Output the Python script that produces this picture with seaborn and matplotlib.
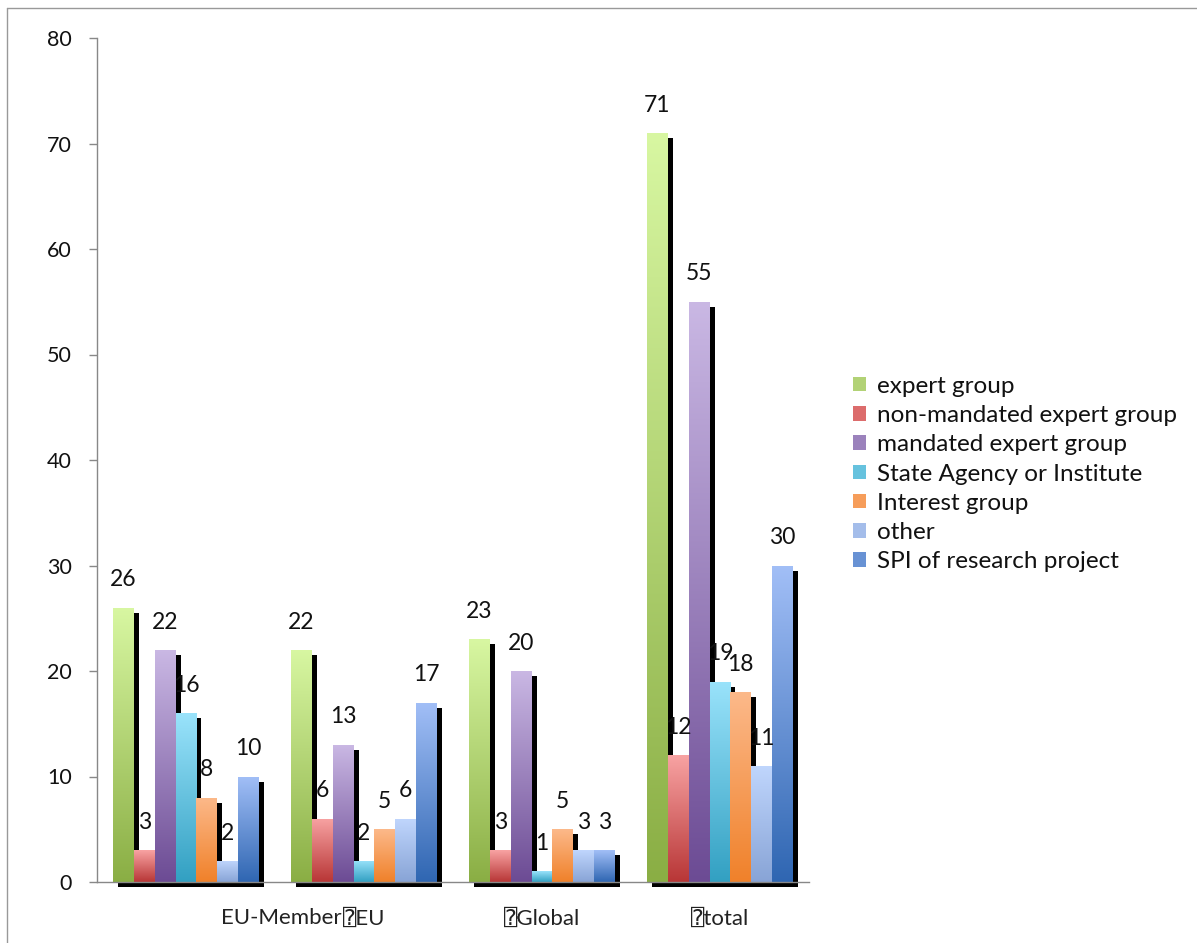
import numpy as np
import pandas as pd
import matplotlib
matplotlib.use("Agg")
import matplotlib.pyplot as plt
import seaborn as sns
from matplotlib.colors import LinearSegmentedColormap
from matplotlib.patches import Rectangle, Patch
from matplotlib.transforms import ScaledTranslation
from matplotlib.lines import Line2D

regions = ["EU-Member", "EU", "Global", "total"]
region_labels = ["EU-Member", "\u2370EU", "\u2370Global", "\u2370total"]
types = ["expert group", "non-mandated expert group", "mandated expert group",
         "State Agency or Institute", "Interest group", "other", "SPI of research project"]
expert_group = [26, 22, 23, 71]
non_mandated = [3, 6, 3, 12]
mandated = [22, 13, 20, 55]
state_agency = [16, 2, 1, 19]
interest_group = [8, 5, 5, 18]
other = [2, 6, 3, 11]
spi_research = [10, 17, 3, 30]
yticks = [0, 10, 20, 30, 40, 50, 60, 70, 80]

series = [expert_group, non_mandated, mandated, state_agency, interest_group, other, spi_research]
rows = []
for t, vals in zip(types, series):
    for r, v in zip(regions, vals):
        rows.append({"region": r, "type": t, "count": v})
df = pd.DataFrame(rows)

light = ["#d8f7a2", "#f8a3a3", "#cab8e4", "#9ae3fb", "#fcb98a", "#c0d6fd", "#a2bff7"]
dark = ["#8aae44", "#b83636", "#6c4b94", "#32a0c2", "#f0812a", "#88a4d6", "#2f66b2"]
mid = ["#b2d276", "#dc6c6c", "#9b82bc", "#66c2de", "#f69d5a", "#a4bdea", "#6892d4"]

sns.set_style("white")
plt.rcParams["font.family"] = ["Lato", "DejaVu Sans", "DejaVu Sans Mono"]

fig = plt.figure(figsize=(11.97, 9.43), dpi=100)
ax = fig.add_axes([97 / 1197, 1 - 882 / 943, (809 - 97) / 1197, (882 - 38) / 943])

sns.barplot(data=df, x="region", y="count", hue="type", order=regions, hue_order=types,
            palette=mid, width=0.82, saturation=1, ax=ax, legend=False, errorbar=None)

shadow_tr = ax.transData + ScaledTranslation(5 / 100, -5 / 100, fig.dpi_scale_trans)
grad = np.linspace(1, 0, 256).reshape(-1, 1)
for i, cont in enumerate(ax.containers):
    cmap = LinearSegmentedColormap.from_list(f"g{i}", [dark[i], light[i]])
    for p in cont.patches:
        x0, w, h = p.get_x(), p.get_width(), p.get_height()
        sh = Rectangle((x0, 0), w, h, transform=shadow_tr, facecolor="black",
                       edgecolor="none", zorder=1.5, clip_on=False)
        ax.add_patch(sh)
        im = ax.imshow(grad, extent=[x0, x0 + w, 0, h], aspect="auto", cmap=cmap,
                       vmin=0, vmax=1, zorder=2, interpolation="bilinear")
        im.set_clip_path(p)
        p.set_facecolor("none")
        p.set_edgecolor("none")
        p.set_zorder(2.1)
        ax.annotate(f"{int(h)}", (x0 + w / 2, h), xytext=(0, 12.5), textcoords="offset points",
                    ha="center", va="bottom", fontsize=16.5, color="#111111", zorder=5)

ax.set_xlim(-0.5, 3.5)
ax.set_ylim(0, 80)
ax.set_yticks(yticks)
ax.set_yticklabels([str(v) for v in yticks], fontsize=15.5, color="#111111")
ax.set_xticks(range(len(regions)))
ax.set_xticklabels(region_labels, fontsize=16, color="#222222")
ax.set_xticks([-0.5, 0.5, 1.5, 2.5, 3.5], minor=True)
ax.tick_params(axis="x", which="major", length=0, pad=19)
ax.tick_params(axis="x", which="minor", length=8, color="#888888", width=1, direction="out")
ax.tick_params(axis="y", length=6, color="#888888", width=1, direction="out", pad=12, left=True)
lbl0 = ax.get_xticklabels()[0]
lbl0.set_transform(lbl0.get_transform() + ScaledTranslation(0.95, 0, fig.dpi_scale_trans))
ax.set_xlabel("")
ax.set_ylabel("")
for s in ["top", "right"]:
    ax.spines[s].set_visible(False)
for s in ["left", "bottom"]:
    ax.spines[s].set_color("#888888")
    ax.spines[s].set_linewidth(1)
    ax.spines[s].set_zorder(3)

handles = [Patch(facecolor=mid[i], edgecolor="none") for i in range(len(types))]
fig.legend(handles, types, loc="center left", bbox_to_anchor=(853 / 1197, 1 - 474 / 943),
           frameon=False, fontsize=17.5, handlelength=0.55, handleheight=0.55,
           handletextpad=0.45, labelspacing=0.34, borderpad=0, borderaxespad=0,
           labelcolor="#111111")

fig.add_artist(Line2D([7 / 1197, 1], [1 - 8 / 943, 1 - 8 / 943], transform=fig.transFigure,
                      color="#999999", linewidth=1))
fig.add_artist(Line2D([7 / 1197, 7 / 1197], [0, 1 - 8 / 943], transform=fig.transFigure,
                      color="#999999", linewidth=1))

fig.savefig("out.png", dpi=100)
